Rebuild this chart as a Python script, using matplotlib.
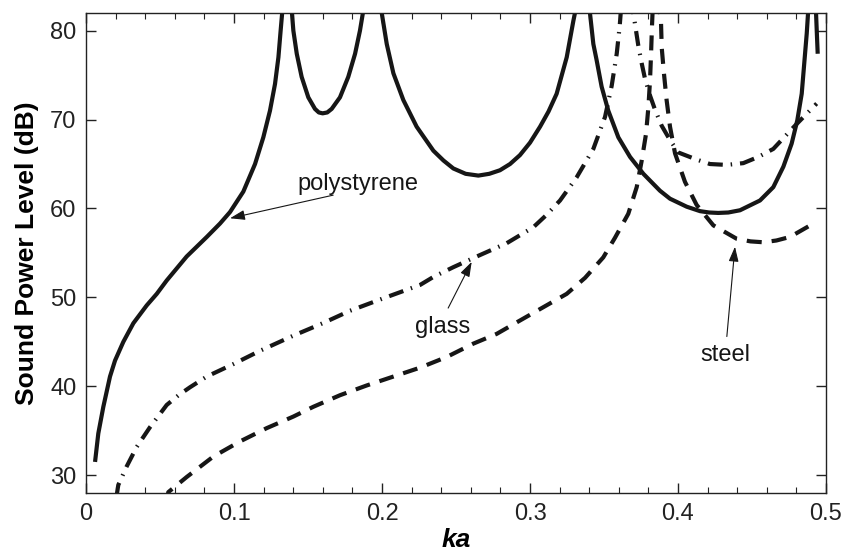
import matplotlib
matplotlib.use("Agg")
import matplotlib.pyplot as plt

plt.rcParams['font.family'] = ['Liberation Sans', 'DejaVu Sans']

# ---- polystyrene (solid), branches between resonances ----
poly_x1 = [0.0061, 0.0083, 0.0117, 0.0162, 0.0196, 0.0252, 0.0320, 0.0410, 0.0478, 0.0545,
           0.0680, 0.0816, 0.0905, 0.0973, 0.1063, 0.1142, 0.1198, 0.1243, 0.1277, 0.1300,
           0.1315, 0.1327, 0.1333]
poly_y1 = [31.5, 34.7, 37.7, 41.1, 42.9, 45.0, 47.1, 49.1, 50.4, 51.9,
           54.6, 56.8, 58.3, 59.6, 61.9, 65.0, 68.0, 71.0, 74.0, 77.0,
           80.0, 82.3, 85.0]
poly_x2 = [0.1385, 0.1390, 0.1401, 0.1424, 0.1457, 0.1502, 0.1547, 0.1573, 0.1599, 0.1630,
           0.1660, 0.1716, 0.1772, 0.1818, 0.1851, 0.1874, 0.1880]
poly_y2 = [85.0, 82.3, 80.0, 77.4, 74.8, 72.5, 71.2, 70.8, 70.7, 70.8,
           71.2, 72.5, 74.8, 77.4, 80.0, 82.3, 85.0]
poly_x3 = [0.1990, 0.1998, 0.2032, 0.2077, 0.2144, 0.2234, 0.2347, 0.2415, 0.2482, 0.2565,
           0.2651, 0.2725, 0.2797, 0.2865, 0.2932, 0.3000, 0.3068, 0.3125, 0.3180, 0.3248,
           0.3293, 0.3304, 0.3312]
poly_y3 = [85.0, 82.0, 78.5, 75.2, 72.2, 69.2, 66.5, 65.4, 64.5, 63.9,
           63.7, 63.9, 64.3, 65.0, 66.0, 67.4, 69.2, 70.9, 72.9, 77.0,
           81.1, 82.0, 85.0]
poly_x4 = [0.3398, 0.3405, 0.3428, 0.3450, 0.3484, 0.3529, 0.3597, 0.3676, 0.3766, 0.3878,
           0.3946, 0.4059, 0.4149, 0.4210, 0.4272, 0.4340, 0.4419, 0.4554, 0.4644, 0.4712,
           0.4768, 0.4806, 0.4836, 0.4853, 0.4870, 0.4880, 0.4886]
poly_y4 = [85.0, 82.0, 78.5, 76.7, 73.7, 71.0, 68.0, 65.8, 63.9, 62.0,
           61.1, 60.2, 59.7, 59.55, 59.5, 59.55, 59.8, 60.9, 62.4, 64.7,
           67.3, 69.9, 72.9, 76.3, 79.7, 82.3, 85.0]
poly_x5 = [0.4926, 0.4932, 0.4938, 0.4944]
poly_y5 = [85.0, 82.3, 79.8, 77.4]

# ---- glass (dash-dot) ----
glass_x1 = [0.0205, 0.0218, 0.0275, 0.0343, 0.0432, 0.0545, 0.0625, 0.0703, 0.0816, 0.0995,
            0.1176, 0.1401, 0.1600, 0.1784, 0.2009, 0.2257, 0.2347, 0.2482, 0.2640, 0.2843,
            0.3023, 0.3113, 0.3203, 0.3315, 0.3428, 0.3507, 0.3552, 0.3586, 0.3606, 0.3613,
            0.3618]
glass_y1 = [27.5, 28.9, 31.0, 33.2, 35.4, 37.9, 39.0, 39.9, 41.1, 42.5,
            44.0, 45.7, 47.1, 48.5, 49.9, 51.4, 52.3, 53.4, 54.6, 56.1,
            57.9, 59.3, 60.9, 63.5, 66.7, 70.3, 73.8, 77.4, 80.5, 82.0,
            85.0]
glass_x2 = [0.3694, 0.3698, 0.3709, 0.3732, 0.3755, 0.3777, 0.3811, 0.3845, 0.3890, 0.3946,
            0.4002, 0.4126, 0.4216, 0.4329, 0.4441, 0.4543, 0.4644, 0.4790, 0.4937]
glass_y2 = [85.0, 82.0, 80.8, 78.3, 76.3, 74.6, 72.7, 71.1, 69.3, 67.7,
            66.3, 65.5, 65.0, 64.9, 65.1, 65.8, 66.7, 69.3, 71.8]

# ---- steel (dashed) ----
steel_x1 = [0.0545, 0.0556, 0.0680, 0.0860, 0.1040, 0.1221, 0.1401, 0.1536, 0.1716, 0.1897,
            0.2077, 0.2257, 0.2437, 0.2617, 0.2775, 0.2932, 0.3090, 0.3248, 0.3372, 0.3495,
            0.3574, 0.3664, 0.3721, 0.3755, 0.3784, 0.3800, 0.3811, 0.3818, 0.3824, 0.3828,
            0.3831]
steel_y1 = [27.0, 28.1, 29.8, 32.1, 33.8, 35.3, 36.6, 37.7, 39.0, 40.1,
            41.1, 42.1, 43.3, 44.8, 45.9, 47.4, 48.9, 50.4, 52.2, 54.5,
            56.7, 59.4, 62.4, 65.4, 68.4, 71.4, 74.4, 77.4, 80.4, 82.0,
            85.0]
steel_x2 = [0.3874, 0.3878, 0.3885, 0.3890, 0.3905, 0.3923, 0.3946, 0.3980, 0.4047, 0.4126,
            0.4239, 0.4396, 0.4490, 0.4577, 0.4665, 0.4757, 0.4914, 0.4926]
steel_y2 = [85.0, 81.9, 81.1, 78.1, 75.2, 72.2, 69.2, 66.2, 63.0, 60.4,
            58.1, 56.6, 56.3, 56.2, 56.4, 56.8, 58.3, 58.6]

x_ticks = [0, 0.1, 0.2, 0.3, 0.4, 0.5]
x_tick_labels = ['0', '0.1', '0.2', '0.3', '0.4', '0.5']
y_ticks = [30, 40, 50, 60, 70, 80]
y_tick_labels = ['30', '40', '50', '60', '70', '80']

fig = plt.figure(figsize=(8.45, 5.59), dpi=100)
ax = fig.add_axes([0.1018, 0.118, 0.8757, 0.859])

lw = 3.0
ink = '#161616'
for xs, ys in [(poly_x1, poly_y1), (poly_x2, poly_y2), (poly_x3, poly_y3),
               (poly_x4, poly_y4), (poly_x5, poly_y5)]:
    ax.plot(xs, ys, color=ink, lw=lw, solid_capstyle='butt', solid_joinstyle='round')

for xs, ys in [(glass_x1, glass_y1), (glass_x2, glass_y2)]:
    ax.plot(xs, ys, color=ink, lw=lw, linestyle=(0, (3.6, 1.9, 0.35, 1.9)),
            dash_capstyle='butt')

for xs, ys in [(steel_x1, steel_y1), (steel_x2, steel_y2)]:
    ax.plot(xs, ys, color=ink, lw=lw, linestyle=(0, (3.6, 2.4)),
            dash_capstyle='butt')

ax.set_xlim(0, 0.5)
ax.set_ylim(28, 82)
ax.set_xticks(x_ticks)
ax.set_xticklabels(x_tick_labels)
ax.set_yticks(y_ticks)
ax.set_yticklabels(y_tick_labels)
ax.set_xticks([0.02 * i for i in range(26) if i % 5 != 0], minor=True)
ax.tick_params(axis='both', which='major', direction='in', length=7, width=1.0,
               top=True, right=True, labelsize=17, colors='#222222', pad=7)
ax.tick_params(axis='x', which='minor', direction='in', length=4, width=0.8,
               top=True, bottom=True, colors='#222222')
for sp in ax.spines.values():
    sp.set_linewidth(1.0)
    sp.set_color('#222222')

ax.set_xlabel('ka', fontsize=19, fontweight='bold', fontstyle='italic', labelpad=2)
ax.set_ylabel('Sound Power Level (dB)', fontsize=19, fontweight='bold', labelpad=8)

arrow = dict(arrowstyle='-|>,head_length=0.9,head_width=0.3', lw=0.8, color=ink,
             shrinkA=0, shrinkB=0)
ax.annotate('', xy=(0.0973, 58.9), xytext=(0.167, 61.5), arrowprops=arrow)
ax.text(0.1426, 62.8, 'polystyrene', fontsize=17, ha='left', va='center', color=ink)
ax.annotate('', xy=(0.2606, 54.0), xytext=(0.2447, 48.8), arrowprops=arrow)
ax.text(0.2412, 46.7, 'glass', fontsize=17, ha='center', va='center', color=ink)
ax.annotate('', xy=(0.4385, 55.7), xytext=(0.433, 45.6), arrowprops=arrow)
ax.text(0.4318, 43.5, 'steel', fontsize=17, ha='center', va='center', color=ink)

fig.savefig('out.png', dpi=100)
